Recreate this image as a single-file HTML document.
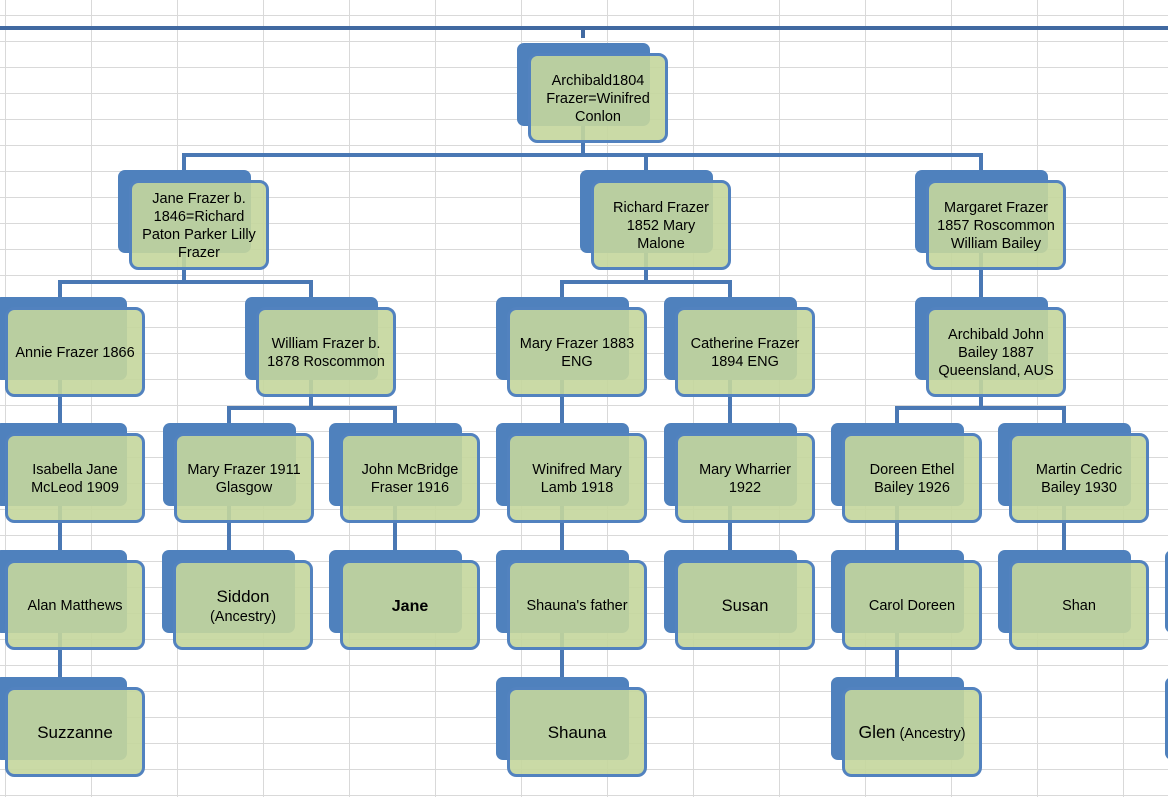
<!DOCTYPE html>
<html><head><meta charset="utf-8">
<style>
html,body{margin:0;padding:0;background:#fff;}
svg{display:block;}
text{font-family:"Liberation Sans",Arial,sans-serif;fill:#000;}
</style></head>
<body>
<svg width="1168" height="797" viewBox="0 0 1168 797" xmlns="http://www.w3.org/2000/svg">
<rect width="1168" height="797" fill="#fff"/>
<g stroke="#D9D9D9" stroke-width="1">
<line x1="5.5" y1="0" x2="5.5" y2="797"/><line x1="91.5" y1="0" x2="91.5" y2="797"/><line x1="177.5" y1="0" x2="177.5" y2="797"/><line x1="263.5" y1="0" x2="263.5" y2="797"/><line x1="349.5" y1="0" x2="349.5" y2="797"/><line x1="435.5" y1="0" x2="435.5" y2="797"/><line x1="521.5" y1="0" x2="521.5" y2="797"/><line x1="607.5" y1="0" x2="607.5" y2="797"/><line x1="693.5" y1="0" x2="693.5" y2="797"/><line x1="779.5" y1="0" x2="779.5" y2="797"/><line x1="865.5" y1="0" x2="865.5" y2="797"/><line x1="951.5" y1="0" x2="951.5" y2="797"/><line x1="1037.5" y1="0" x2="1037.5" y2="797"/><line x1="1123.5" y1="0" x2="1123.5" y2="797"/>
<line x1="0" y1="15.5" x2="1168" y2="15.5"/><line x1="0" y1="41.5" x2="1168" y2="41.5"/><line x1="0" y1="67.5" x2="1168" y2="67.5"/><line x1="0" y1="93.5" x2="1168" y2="93.5"/><line x1="0" y1="119.5" x2="1168" y2="119.5"/><line x1="0" y1="145.5" x2="1168" y2="145.5"/><line x1="0" y1="171.5" x2="1168" y2="171.5"/><line x1="0" y1="197.5" x2="1168" y2="197.5"/><line x1="0" y1="223.5" x2="1168" y2="223.5"/><line x1="0" y1="249.5" x2="1168" y2="249.5"/><line x1="0" y1="275.5" x2="1168" y2="275.5"/><line x1="0" y1="301.5" x2="1168" y2="301.5"/><line x1="0" y1="327.5" x2="1168" y2="327.5"/><line x1="0" y1="353.5" x2="1168" y2="353.5"/><line x1="0" y1="379.5" x2="1168" y2="379.5"/><line x1="0" y1="405.5" x2="1168" y2="405.5"/><line x1="0" y1="431.5" x2="1168" y2="431.5"/><line x1="0" y1="457.5" x2="1168" y2="457.5"/><line x1="0" y1="483.5" x2="1168" y2="483.5"/><line x1="0" y1="509.5" x2="1168" y2="509.5"/><line x1="0" y1="535.5" x2="1168" y2="535.5"/><line x1="0" y1="561.5" x2="1168" y2="561.5"/><line x1="0" y1="587.5" x2="1168" y2="587.5"/><line x1="0" y1="613.5" x2="1168" y2="613.5"/><line x1="0" y1="639.5" x2="1168" y2="639.5"/><line x1="0" y1="665.5" x2="1168" y2="665.5"/><line x1="0" y1="691.5" x2="1168" y2="691.5"/><line x1="0" y1="717.5" x2="1168" y2="717.5"/><line x1="0" y1="743.5" x2="1168" y2="743.5"/><line x1="0" y1="769.5" x2="1168" y2="769.5"/><line x1="0" y1="795.5" x2="1168" y2="795.5"/>
</g>

<!-- top line -->
<rect x="0" y="26" width="1168" height="4" fill="#4169A1"/>
<rect x="581" y="28" width="4" height="10" fill="#4169A1"/>

<!-- connectors -->
<g fill="#4A78B4">
<rect x="581" y="100" width="4" height="57"/>
<rect x="182" y="153" width="801" height="4"/>
<rect x="182" y="153" width="4" height="20"/>
<rect x="644" y="153" width="4" height="20"/>
<rect x="979" y="153" width="4" height="20"/>

<rect x="182" y="230" width="4" height="54"/>
<rect x="58" y="280" width="255" height="4"/>
<rect x="58" y="280" width="4" height="20"/>
<rect x="309" y="280" width="4" height="20"/>

<rect x="644" y="230" width="4" height="54"/>
<rect x="560" y="280" width="172" height="4"/>
<rect x="560" y="280" width="4" height="20"/>
<rect x="728" y="280" width="4" height="20"/>

<rect x="979" y="230" width="4" height="70"/>

<rect x="58" y="350" width="4" height="76"/>
<rect x="58" y="476" width="4" height="77"/>
<rect x="58" y="603" width="4" height="77"/>

<rect x="309" y="350" width="4" height="60"/>
<rect x="227" y="406" width="170" height="4"/>
<rect x="227" y="406" width="4" height="20"/>
<rect x="393" y="406" width="4" height="20"/>
<rect x="227" y="476" width="4" height="77"/>
<rect x="393" y="476" width="4" height="77"/>

<rect x="560" y="350" width="4" height="76"/>
<rect x="560" y="476" width="4" height="77"/>
<rect x="560" y="603" width="4" height="77"/>

<rect x="728" y="350" width="4" height="76"/>
<rect x="728" y="476" width="4" height="77"/>

<rect x="979" y="350" width="4" height="60"/>
<rect x="895" y="406" width="171" height="4"/>
<rect x="895" y="406" width="4" height="20"/>
<rect x="1062" y="406" width="4" height="20"/>
<rect x="895" y="476" width="4" height="77"/>
<rect x="895" y="603" width="4" height="77"/>
<rect x="1062" y="476" width="4" height="77"/>
</g>

<!-- back rects -->
<g fill="#4F81BD">
<rect x="517" y="43" width="133" height="83" rx="7"/>
<rect x="118" y="170" width="133" height="83" rx="7"/>
<rect x="580" y="170" width="133" height="83" rx="7"/>
<rect x="915" y="170" width="133" height="83" rx="7"/>
<rect x="-6" y="297" width="133" height="83" rx="7"/>
<rect x="245" y="297" width="133" height="83" rx="7"/>
<rect x="496" y="297" width="133" height="83" rx="7"/>
<rect x="664" y="297" width="133" height="83" rx="7"/>
<rect x="915" y="297" width="133" height="83" rx="7"/>
<rect x="-6" y="423" width="133" height="83" rx="7"/>
<rect x="163" y="423" width="133" height="83" rx="7"/>
<rect x="329" y="423" width="133" height="83" rx="7"/>
<rect x="496" y="423" width="133" height="83" rx="7"/>
<rect x="664" y="423" width="133" height="83" rx="7"/>
<rect x="831" y="423" width="133" height="83" rx="7"/>
<rect x="998" y="423" width="133" height="83" rx="7"/>
<rect x="-6" y="550" width="133" height="83" rx="7"/>
<rect x="162" y="550" width="133" height="83" rx="7"/>
<rect x="329" y="550" width="133" height="83" rx="7"/>
<rect x="496" y="550" width="133" height="83" rx="7"/>
<rect x="664" y="550" width="133" height="83" rx="7"/>
<rect x="831" y="550" width="133" height="83" rx="7"/>
<rect x="998" y="550" width="133" height="83" rx="7"/>
<rect x="1165" y="550" width="133" height="83" rx="7"/>
<rect x="-6" y="677" width="133" height="83" rx="7"/>
<rect x="496" y="677" width="133" height="83" rx="7"/>
<rect x="831" y="677" width="133" height="83" rx="7"/>
<rect x="1165" y="677" width="133" height="83" rx="7"/>
</g>

<!-- front rects -->
<g fill="rgb(196,214,156)" fill-opacity="0.9" stroke="#5282BF" stroke-width="3">
<rect x="529.5" y="54.5" width="137" height="87" rx="8"/>
<rect x="130.5" y="181.5" width="137" height="87" rx="8"/>
<rect x="592.5" y="181.5" width="137" height="87" rx="8"/>
<rect x="927.5" y="181.5" width="137" height="87" rx="8"/>
<rect x="6.5" y="308.5" width="137" height="87" rx="8"/>
<rect x="257.5" y="308.5" width="137" height="87" rx="8"/>
<rect x="508.5" y="308.5" width="137" height="87" rx="8"/>
<rect x="676.5" y="308.5" width="137" height="87" rx="8"/>
<rect x="927.5" y="308.5" width="137" height="87" rx="8"/>
<rect x="6.5" y="434.5" width="137" height="87" rx="8"/>
<rect x="175.5" y="434.5" width="137" height="87" rx="8"/>
<rect x="341.5" y="434.5" width="137" height="87" rx="8"/>
<rect x="508.5" y="434.5" width="137" height="87" rx="8"/>
<rect x="676.5" y="434.5" width="137" height="87" rx="8"/>
<rect x="843.5" y="434.5" width="137" height="87" rx="8"/>
<rect x="1010.5" y="434.5" width="137" height="87" rx="8"/>
<rect x="6.5" y="561.5" width="137" height="87" rx="8"/>
<rect x="174.5" y="561.5" width="137" height="87" rx="8"/>
<rect x="341.5" y="561.5" width="137" height="87" rx="8"/>
<rect x="508.5" y="561.5" width="137" height="87" rx="8"/>
<rect x="676.5" y="561.5" width="137" height="87" rx="8"/>
<rect x="843.5" y="561.5" width="137" height="87" rx="8"/>
<rect x="1010.5" y="561.5" width="137" height="87" rx="8"/>
<rect x="6.5" y="688.5" width="137" height="87" rx="8"/>
<rect x="508.5" y="688.5" width="137" height="87" rx="8"/>
<rect x="843.5" y="688.5" width="137" height="87" rx="8"/>
</g>

<!-- text -->
<g font-size="14.5" text-anchor="middle">
<text x="598" y="85">Archibald1804</text>
<text x="598" y="103">Frazer=Winifred</text>
<text x="598" y="121">Conlon</text>

<text x="199" y="203">Jane Frazer b.</text>
<text x="199" y="221">1846=Richard</text>
<text x="199" y="239">Paton Parker Lilly</text>
<text x="199" y="257">Frazer</text>

<text x="661" y="212">Richard Frazer</text>
<text x="661" y="230">1852 Mary</text>
<text x="661" y="248">Malone</text>

<text x="996" y="212">Margaret Frazer</text>
<text x="996" y="230">1857 Roscommon</text>
<text x="996" y="248">William Bailey</text>

<text x="75" y="357">Annie Frazer 1866</text>

<text x="326" y="348">William Frazer b.</text>
<text x="326" y="366">1878 Roscommon</text>

<text x="577" y="348">Mary Frazer 1883</text>
<text x="577" y="366">ENG</text>

<text x="745" y="348">Catherine Frazer</text>
<text x="745" y="366">1894 ENG</text>

<text x="996" y="339">Archibald John</text>
<text x="996" y="357">Bailey 1887</text>
<text x="996" y="375">Queensland, AUS</text>

<text x="75" y="474">Isabella Jane</text>
<text x="75" y="492">McLeod 1909</text>

<text x="244" y="474">Mary Frazer 1911</text>
<text x="244" y="492">Glasgow</text>

<text x="410" y="474">John McBridge</text>
<text x="410" y="492">Fraser 1916</text>

<text x="577" y="474">Winifred Mary</text>
<text x="577" y="492">Lamb 1918</text>

<text x="745" y="474">Mary Wharrier</text>
<text x="745" y="492">1922</text>

<text x="912" y="474">Doreen Ethel</text>
<text x="912" y="492">Bailey 1926</text>

<text x="1079" y="474">Martin Cedric</text>
<text x="1079" y="492">Bailey 1930</text>

<text x="75" y="610">Alan Matthews</text>
<text x="243" y="602" font-size="17">Siddon</text>
<text x="243" y="621">(Ancestry)</text>
<text x="410" y="611" font-size="16" font-weight="bold">Jane</text>
<text x="577" y="610">Shauna's father</text>
<text x="745" y="611" font-size="16.5">Susan</text>
<text x="912" y="610">Carol Doreen</text>
<text x="1079" y="610">Shan</text>

<text x="75" y="738" font-size="17">Suzzanne</text>
<text x="577" y="738" font-size="17">Shauna</text>
<text x="912" y="738"><tspan font-size="17.5">Glen</tspan> <tspan font-size="14.5">(Ancestry)</tspan></text>
</g>
</svg>
</body></html>
